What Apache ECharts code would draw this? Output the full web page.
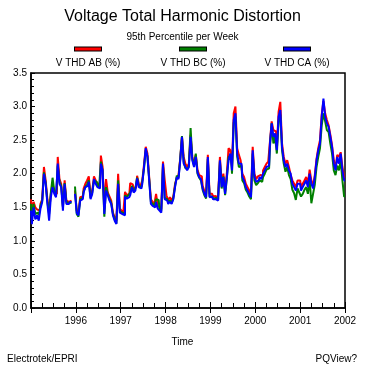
<!DOCTYPE html>
<html><head><meta charset="utf-8">
<script src="https://cdn.jsdelivr.net/npm/echarts@6/dist/echarts.min.js"></script>
<style>html,body{margin:0;padding:0;background:#fff}#c{width:365px;height:365px}</style>
</head><body><div id="c"></div>
<script>
const startYear = 1995;
const pointsPerYear = 26; // biweekly samples of the weekly 95th percentile
const seriesNames = ['V THD AB (%)', 'V THD BC (%)', 'V THD CA (%)'];
const seriesColors = ['#ff0000', '#008000', '#0000ff'];
const yearTicks = [1996, 1997, 1998, 1999, 2000, 2001, 2002];

const thdAB = [
 1.62,1.45,1.58,1.50,1.47,1.45,1.55,1.62,2.10,1.90,1.62,1.45,1.70,1.85,1.72,1.70,2.25,1.92,1.85,1.52,1.90,1.60,1.58,1.60,null,null,
 1.75,1.45,1.42,1.65,1.66,1.78,1.85,1.90,1.96,1.68,1.75,1.96,1.90,1.86,1.84,2.27,2.10,1.48,1.92,1.72,1.66,1.60,1.42,1.35,1.30,2.00,
 1.48,1.45,1.42,1.73,1.68,1.70,1.86,1.84,1.78,1.80,1.97,1.85,1.82,1.90,2.13,2.40,2.30,1.95,1.62,1.58,1.55,1.70,1.52,1.50,1.47,2.18,
 1.91,1.68,1.60,1.65,1.60,1.66,1.85,1.93,1.98,2.23,2.55,2.25,2.15,2.10,2.15,2.58,2.25,2.15,2.28,2.06,1.98,1.96,1.82,1.74,1.70,2.28,
 1.70,1.70,1.66,1.67,1.64,1.68,2.25,1.86,2.00,1.74,2.00,2.38,2.35,2.10,2.90,3.00,2.38,2.28,2.20,2.00,1.95,1.85,1.80,1.75,1.70,2.40,
 2.00,1.92,1.96,1.98,1.97,2.05,2.10,2.15,2.18,2.48,2.78,2.65,2.63,2.40,2.92,3.07,2.45,2.25,2.15,2.20,2.10,1.98,1.90,1.85,1.80,1.90,
 1.90,1.80,1.85,1.90,1.95,1.85,2.06,1.90,1.82,1.98,2.22,2.38,2.50,2.88,3.08,2.90,2.80,2.72,2.58,2.42,2.20,2.08,2.28,2.25,2.32,2.10,1.95
];
const thdBC = [
 1.55,1.35,1.55,1.40,1.42,1.38,1.52,1.60,2.02,1.86,1.58,1.40,1.72,1.94,1.74,1.66,2.12,1.88,1.82,1.50,1.86,1.58,1.56,1.57,null,null,
 1.81,1.40,1.36,1.62,1.64,1.74,1.80,1.84,1.90,1.64,1.72,1.90,1.88,1.84,1.80,2.18,2.05,1.36,1.80,1.70,1.62,1.56,1.40,1.32,1.26,1.90,
 1.44,1.42,1.40,1.68,1.65,1.68,1.72,1.82,1.74,1.78,1.94,1.82,1.80,1.88,2.08,2.35,2.26,1.92,1.58,1.55,1.52,1.62,1.61,1.47,1.44,2.12,
 1.64,1.62,1.57,1.60,1.56,1.64,1.82,1.97,1.94,2.22,2.56,2.18,2.08,2.08,2.12,2.68,2.22,2.12,2.30,2.00,1.94,1.90,1.76,1.68,1.63,2.22,
 1.66,1.66,1.63,1.64,1.62,1.65,2.18,1.78,1.96,1.68,1.92,2.25,2.26,2.00,2.76,2.85,2.26,2.10,2.12,1.90,1.86,1.76,1.72,1.66,1.62,2.30,
 1.90,1.83,1.86,1.90,1.88,1.95,2.00,2.06,2.08,2.40,2.75,2.45,2.55,2.30,2.78,2.88,2.35,2.15,2.03,2.10,1.98,1.92,1.76,1.71,1.61,1.78,
 1.72,1.66,1.70,1.76,1.80,1.70,1.92,1.56,1.70,1.84,2.10,2.25,2.38,2.72,2.90,2.78,2.65,2.62,2.45,2.30,2.05,1.98,2.12,2.05,2.20,1.90,1.66
];
const thdCA = [
 1.45,1.25,1.50,1.32,1.38,1.30,1.48,1.58,2.00,1.85,1.55,1.30,1.65,1.80,1.70,1.65,2.15,1.85,1.80,1.45,1.85,1.55,1.55,1.58,null,null,
 1.70,1.42,1.38,1.60,1.62,1.72,1.80,1.82,1.88,1.62,1.70,1.92,1.85,1.80,1.78,2.15,2.05,1.40,1.75,1.68,1.60,1.55,1.38,1.30,1.25,1.85,
 1.42,1.40,1.38,1.66,1.63,1.65,1.68,1.80,1.72,1.75,1.93,1.80,1.78,1.85,2.10,2.38,2.25,1.90,1.55,1.52,1.50,1.58,1.48,1.45,1.42,2.15,
 1.62,1.60,1.55,1.58,1.55,1.62,1.80,1.95,1.92,2.20,2.55,2.15,2.10,2.05,2.10,2.55,2.20,2.10,2.25,2.02,1.95,1.92,1.78,1.70,1.65,2.25,
 1.65,1.66,1.62,1.62,1.60,1.64,2.20,1.80,1.95,1.70,1.95,2.20,2.30,2.05,2.80,2.90,2.30,2.15,2.15,1.95,1.90,1.80,1.75,1.70,1.65,2.35,
 1.95,1.88,1.90,1.95,1.92,2.00,2.05,2.10,2.12,2.45,2.75,2.55,2.60,2.35,2.85,2.95,2.40,2.20,2.10,2.15,2.05,2.00,1.85,1.80,1.75,1.85,
 1.85,1.75,1.80,1.85,1.90,1.80,2.00,1.85,1.78,1.95,2.20,2.35,2.45,2.85,3.12,2.85,2.75,2.70,2.55,2.40,2.15,2.05,2.25,2.15,2.30,2.05,1.90
];

const FONT = "'Liberation Sans Narrow', 'Liberation Sans', Arial, sans-serif";
const valueSets = [thdAB, thdBC, thdCA];
const pairs = vals => vals.map((v, i) => [startYear + i / pointsPerYear, v]);

const chart = echarts.init(document.getElementById('c'), null, {renderer: 'canvas'});
const legendCenters = [83, 188, 292];
const legends = seriesNames.map((n, k) => ({
  data: [n], left: legendCenters[k] - 40, top: 44, icon: 'none', itemWidth: 0, itemHeight: 0, padding: 0,
  selectedMode: false,
  formatter: name => '{sw|}\n{t|' + name + '}',
  textStyle: {
    fontFamily: FONT, fontSize: 10, color: '#000',
    rich: {
      sw: {width: 26, height: 3, backgroundColor: seriesColors[k], borderColor: '#000', borderWidth: 1, align: 'center', lineHeight: 14},
      t: {width: 80, align: 'center', fontFamily: FONT, fontSize: 10, color: '#000', lineHeight: 14}
    }
  }
}));

chart.setOption({
  animation: false,
  backgroundColor: '#fff',
  title: [
    {text: 'Voltage Total Harmonic Distortion', left: 'center', top: 4,
     textStyle: {fontFamily: FONT, fontSize: 16, fontWeight: 'normal', color: '#000'}},
    {text: '95th Percentile per Week', left: 'center', top: 27,
     textStyle: {fontFamily: FONT, fontSize: 10, fontWeight: 'normal', color: '#000'}},
    {text: 'Time', left: 'center', top: 332,
     textStyle: {fontFamily: FONT, fontSize: 10, fontWeight: 'normal', color: '#000'}},
    {text: 'Electrotek/EPRI', left: 2, top: 349,
     textStyle: {fontFamily: FONT, fontSize: 10, fontWeight: 'normal', color: '#000'}},
    {text: 'PQView?', right: 3, top: 349,
     textStyle: {fontFamily: FONT, fontSize: 10, fontWeight: 'normal', color: '#000'}}
  ],
  legend: legends,
  grid: {left: 31, right: 20, top: 73, bottom: 57, show: true, borderColor: '#000', borderWidth: 1.5, backgroundColor: 'transparent'},
  xAxis: [{
    type: 'value', min: 1995, max: 2002, interval: 1,
    axisLine: {show: true, lineStyle: {color: '#000', width: 1.5}},
    axisTick: {show: true, inside: false, length: 5, lineStyle: {color: '#000'}},
    minorTick: {show: false},
    splitLine: {show: false},
    axisLabel: {fontFamily: FONT, fontSize: 10, color: '#000', margin: 8,
      formatter: v => yearTicks.includes(v) ? String(v) : ''}
  }, {
    type: 'value', min: 1995, max: 2002, interval: 1, position: 'bottom',
    axisLine: {show: false},
    axisTick: {show: true, inside: true, length: 6, lineStyle: {color: '#000'}},
    minorTick: {show: true, splitNumber: 4, length: 5, lineStyle: {color: '#000'}},
    splitLine: {show: false}, axisLabel: {show: false}
  }],
  yAxis: {
    type: 'value', min: 0, max: 3.5, interval: 0.5,
    axisLine: {show: true, lineStyle: {color: '#000', width: 1.5}},
    axisTick: {show: true, inside: true, length: 4, lineStyle: {color: '#000'}},
    minorTick: {show: true, splitNumber: 5, length: 3, lineStyle: {color: '#000'}},
    splitLine: {show: false},
    axisLabel: {fontFamily: FONT, fontSize: 10, color: '#000', margin: 4, formatter: v => v.toFixed(1)}
  },
  series: valueSets.map((vals, k) => ({
    name: seriesNames[k], type: 'line', step: 'middle', data: pairs(vals),
    showSymbol: false, symbol: 'none', connectNulls: false,
    lineStyle: {color: seriesColors[k], width: 2}, itemStyle: {color: seriesColors[k]},
    xAxisIndex: 0, z: 2 + k
  }))
});
</script>
</body></html>
